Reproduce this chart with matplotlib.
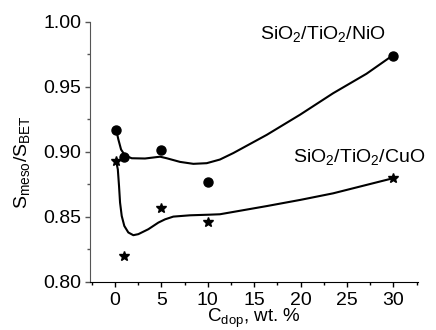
import numpy as np
import matplotlib
matplotlib.use('Agg')
import matplotlib.pyplot as plt
from matplotlib.ticker import MultipleLocator

plt.rcParams['font.family'] = ['Liberation Sans', 'DejaVu Sans']
plt.rcParams['mathtext.fontset'] = 'custom'
plt.rcParams['mathtext.rm'] = 'Liberation Sans'
plt.rcParams['mathtext.it'] = 'Liberation Sans'

# ── data ─────────────────────────────────────────────
c_dop = [0.1, 1, 5, 10, 30]
nio_ratio = [0.917, 0.896, 0.901, 0.877, 0.974]
cuo_ratio = [0.893, 0.820, 0.857, 0.846, 0.880]

# smoothed guide lines
nio_fit_x = [0.12, 0.36, 0.65, 1.08, 1.8, 3.23, 4.85, 5.57, 7.0, 8.44, 9.88, 11.3, 12.75,
             16.35, 19.94, 23.5, 27.1, 30]
nio_fit_y = [0.917, 0.9094, 0.9017, 0.8971, 0.895, 0.8948, 0.8962, 0.895, 0.8922, 0.8907,
             0.8912, 0.894, 0.899, 0.913, 0.9285, 0.945, 0.960, 0.9745]
cuo_fit_x = [0.12, 0.3, 0.43, 0.54, 0.72, 1.0, 1.43, 1.97, 2.51, 3.59, 4.67, 5.39, 6.28,
             8.08, 10.24, 11.3, 16.35, 20.0, 23.5, 30]
cuo_fit_y = [0.8927, 0.8864, 0.8736, 0.8609, 0.8506, 0.8429, 0.8379, 0.8358, 0.8366, 0.8404,
             0.8455, 0.848, 0.8501, 0.8511, 0.8516, 0.8519, 0.8582, 0.863, 0.868, 0.8797]

fig = plt.figure(figsize=(4.36, 3.30), dpi=100)
ax = fig.add_axes([0.2064, 0.1463, 0.7512, 0.7877])

ax.plot(nio_fit_x, nio_fit_y, color='black', lw=1.5, solid_capstyle='round', solid_joinstyle='round')
ax.plot(cuo_fit_x, cuo_fit_y, color='black', lw=1.5, solid_capstyle='round', solid_joinstyle='round')
ax.plot(c_dop, nio_ratio, 'o', color='black', ms=6.5, ls='none')
ax.plot(c_dop, cuo_ratio, '*', color='black', ms=7.5, ls='none')

ax.set_xlim(-2.7, 32.6)
ax.set_ylim(0.80, 1.00)
ax.xaxis.set_major_locator(MultipleLocator(5))
ax.xaxis.set_minor_locator(MultipleLocator(2.5))
ax.yaxis.set_major_locator(MultipleLocator(0.05))
ax.yaxis.set_minor_locator(MultipleLocator(0.025))
ax.yaxis.set_major_formatter(plt.FormatStrFormatter('%.2f'))

ax.spines['top'].set_visible(False)
ax.spines['right'].set_visible(False)
ax.spines['left'].set_color('#555555')
ax.spines['bottom'].set_color('black')
ax.tick_params(which='major', direction='out', length=3.6, width=1, labelsize=14)
ax.tick_params(which='minor', direction='out', length=2, width=1)
ax.tick_params(axis='x', which='major', pad=3.5)
ax.tick_params(axis='y', which='major', pad=2.5)
ax.tick_params(axis='y', which='both', colors='#555555', labelcolor='black')

ax.set_xlabel(r'C$_\mathrm{dop}$, wt. %', fontsize=13.5, labelpad=-1)
ax.set_ylabel(r'S$_\mathrm{meso}$/S$_\mathrm{BET}$', fontsize=14)
ax.yaxis.set_label_coords(-0.177, 0.459)

ax.text(15.6, 0.9906, r'SiO$_2$/TiO$_2$/NiO', fontsize=14, va='center', ha='left')
ax.text(19.2, 0.896, r'SiO$_2$/TiO$_2$/CuO', fontsize=14, va='center', ha='left', clip_on=False)

plt.savefig('out.png', dpi=100)
plt.close()
